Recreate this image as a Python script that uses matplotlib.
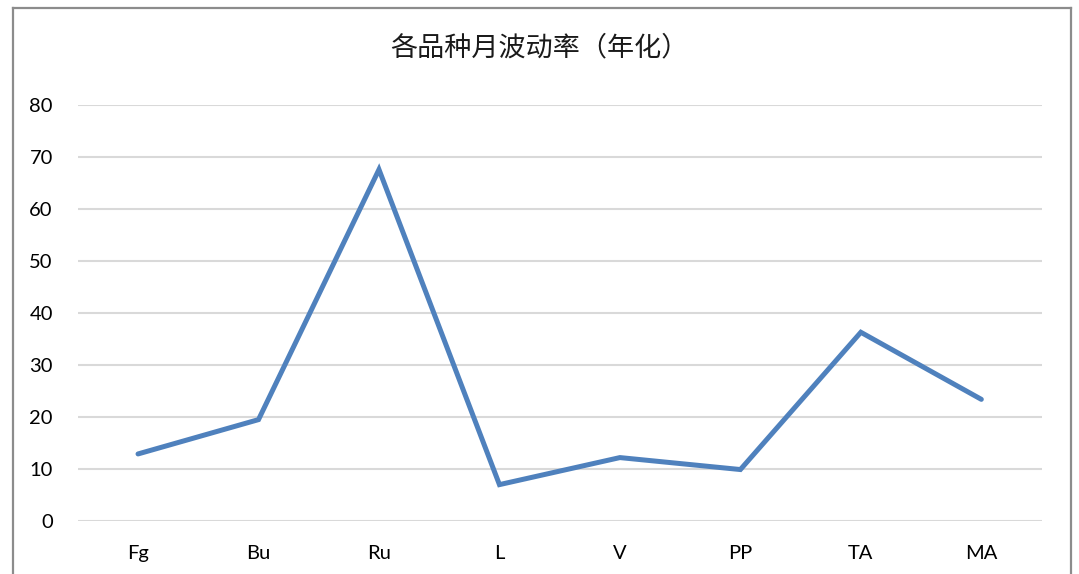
import matplotlib
matplotlib.use("Agg")
import matplotlib.pyplot as plt
from matplotlib.lines import Line2D

# 各品种月波动率（年化）
categories = ["Fg", "Bu", "Ru", "L", "V", "PP", "TA", "MA"]
volatility = [12.9, 19.5, 67.6, 7.0, 12.2, 9.9, 36.3, 23.4]
y_ticks = [0, 10, 20, 30, 40, 50, 60, 70, 80]

fig = plt.figure(figsize=(10.79, 5.74), dpi=100)
ax = fig.add_axes([0.0721, 0.0923, 0.8932, 0.7247])

x = list(range(len(categories)))
ax.plot(x, volatility, color="#4F81BD", linewidth=3.6,
        solid_capstyle="round", solid_joinstyle="miter", zorder=3)

ax.set_xlim(-0.5, len(categories) - 0.5)
ax.set_ylim(0, 80)
ax.set_yticks(y_ticks)
ax.set_xticks(x)
ax.set_xticklabels(categories)
ax.yaxis.grid(True, color="#D9D9D9", linewidth=1.5)
ax.set_axisbelow(True)
for s in ax.spines.values():
    s.set_visible(False)
ax.tick_params(axis="both", length=0, labelsize=14.5, labelcolor="black")
ax.tick_params(axis="y", pad=18)
ax.tick_params(axis="x", pad=17)
for lab in ax.get_xticklabels() + ax.get_yticklabels():
    lab.set_fontfamily(["Lato", "DejaVu Sans"])

fig.text(0.5, 0.917, "各品种月波动率（年化）", ha="center", va="center",
         fontsize=19.5, family=["Noto Sans CJK SC", "DejaVu Sans"], color="#1a1a1a")

# outer chart border (bottom lies below the image)
x0, x1 = 12.5 / 1079, 1070.5 / 1079
y_top = 1 - 7.5 / 574
border_kw = dict(color="#8C8C8C", linewidth=1.6, transform=fig.transFigure)
fig.add_artist(Line2D([x0, x1], [y_top, y_top], **border_kw))
fig.add_artist(Line2D([x0, x0], [-0.05, y_top], **border_kw))
fig.add_artist(Line2D([x1, x1], [-0.05, y_top], **border_kw))

fig.savefig("out.png", dpi=100)
